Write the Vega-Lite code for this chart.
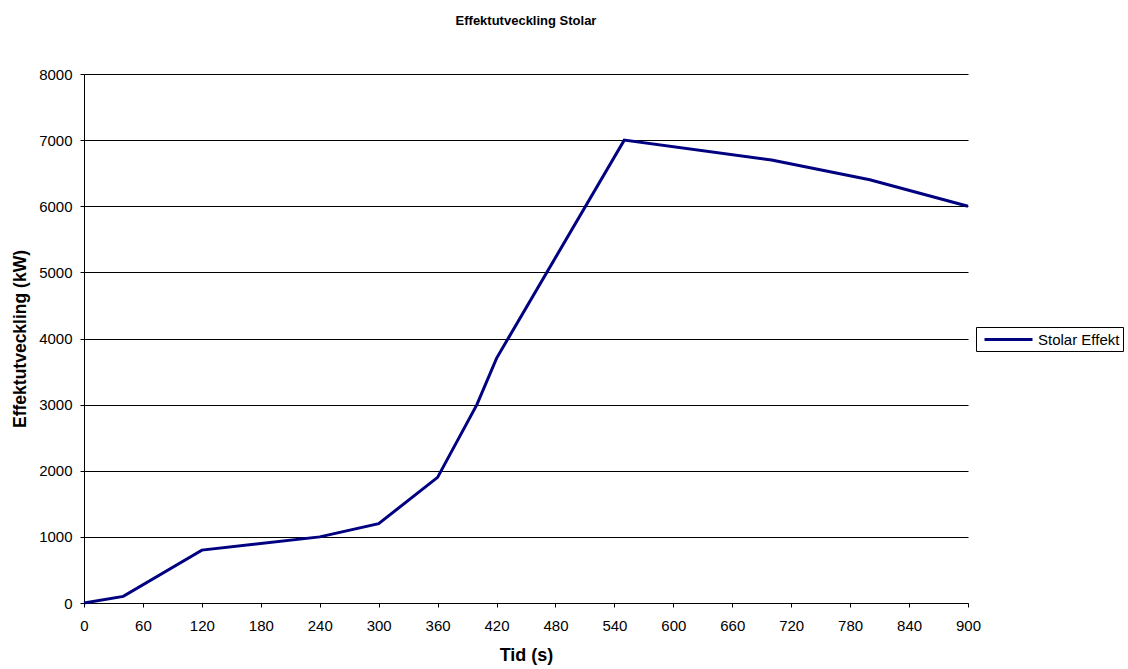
{
  "$schema": "https://vega.github.io/schema/vega-lite/v6.json",
  "autosize": "none",
  "width": 884,
  "height": 529,
  "padding": {"left": 84, "top": 74, "right": 160, "bottom": 66},
  "background": "white",
  "config": {
    "font": "Liberation Sans",
    "view": {"stroke": null}
  },
  "title": {
    "text": "Effektutveckling Stolar",
    "fontSize": 13,
    "fontWeight": "bold",
    "color": "black",
    "anchor": "middle",
    "offset": 39
  },
  "data": {
    "values": [
      {"t": 0, "p": 0, "s": "Stolar Effekt"},
      {"t": 40, "p": 100, "s": "Stolar Effekt"},
      {"t": 120, "p": 800, "s": "Stolar Effekt"},
      {"t": 240, "p": 1000, "s": "Stolar Effekt"},
      {"t": 300, "p": 1200, "s": "Stolar Effekt"},
      {"t": 360, "p": 1900, "s": "Stolar Effekt"},
      {"t": 400, "p": 3000, "s": "Stolar Effekt"},
      {"t": 420, "p": 3700, "s": "Stolar Effekt"},
      {"t": 550, "p": 7000, "s": "Stolar Effekt"},
      {"t": 700, "p": 6700, "s": "Stolar Effekt"},
      {"t": 800, "p": 6400, "s": "Stolar Effekt"},
      {"t": 900, "p": 6000, "s": "Stolar Effekt"}
    ]
  },
  "mark": {"type": "line", "strokeWidth": 3},
  "encoding": {
    "x": {
      "field": "t",
      "type": "quantitative",
      "scale": {"domain": [0, 900], "nice": false},
      "axis": {
        "title": "Tid (s)",
        "titleFontSize": 18,
        "titleFontWeight": "bold",
        "titleColor": "black",
        "titlePadding": 13,
        "values": [0, 60, 120, 180, 240, 300, 360, 420, 480, 540, 600, 660, 720, 780, 840, 900],
        "labelFontSize": 15,
        "labelColor": "black",
        "labelPadding": 11,
        "labelFlush": false,
        "domainColor": "black",
        "tickColor": "black",
        "tickSize": 4,
        "grid": false
      }
    },
    "y": {
      "field": "p",
      "type": "quantitative",
      "scale": {"domain": [0, 8000], "nice": false},
      "axis": {
        "title": "Effektutveckling (kW)",
        "titleFontSize": 17.5,
        "titleFontWeight": "bold",
        "titleColor": "black",
        "titlePadding": 9,
        "format": "d",
        "values": [0, 1000, 2000, 3000, 4000, 5000, 6000, 7000, 8000],
        "labelFontSize": 15,
        "labelColor": "black",
        "labelPadding": 8,
        "domainColor": "black",
        "tickColor": "black",
        "tickSize": 4,
        "grid": true,
        "gridColor": "black",
        "gridOpacity": 1
      }
    },
    "color": {
      "field": "s",
      "type": "nominal",
      "scale": {"range": ["#000080"]},
      "legend": {
        "title": null,
        "orient": "none",
        "legendX": 892,
        "legendY": 253,
        "symbolType": "M-0.5,0H5.5",
        "symbolStrokeWidth": 3,
        "symbolSize": 256,
        "symbolFillColor": "transparent",
        "labelFontSize": 15,
        "labelColor": "black",
        "labelOffset": 40,
        "strokeColor": "black",
        "padding": 3
      }
    }
  }
}
